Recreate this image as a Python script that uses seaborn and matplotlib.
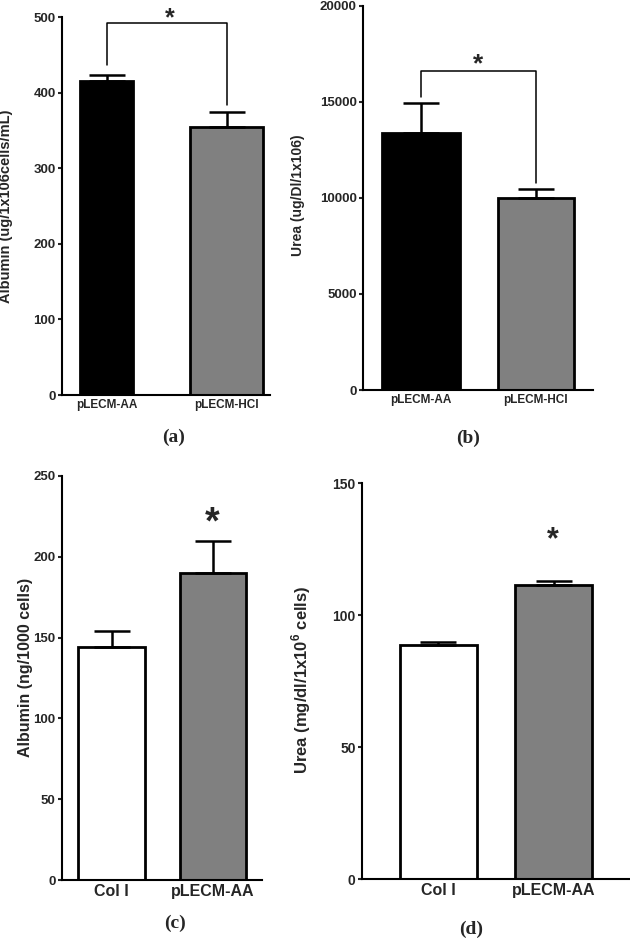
import matplotlib
matplotlib.use('Agg')
import matplotlib.pyplot as plt
import seaborn as sns
import numpy as np

# panel (a): albumin, decellularisation
a_cats = ['pLECM-AA', 'pLECM-HCl']
a_mean = [416, 355]
a_err = [7, 20]
# panel (b): urea, decellularisation
b_cats = ['pLECM-AA', 'pLECM-HCl']
b_mean = [13400, 10000]
b_err = [1550, 450]
# panel (c): albumin, substrate
c_cats = ['Col I', 'pLECM-AA']
c_mean = [144, 190]
c_err = [10, 20]
# panel (d): urea, substrate
d_cats = ['Col I', 'pLECM-AA']
d_mean = [88.7, 111.4]
d_err = [1.0, 1.7]

sns.set_theme(style='ticks')
plt.rcParams['font.family'] = ['Liberation Sans', 'DejaVu Sans']
plt.rcParams['font.weight'] = 'bold'
plt.rcParams['mathtext.fontset'] = 'custom'
plt.rcParams['mathtext.rm'] = 'Liberation Sans:bold'
plt.rcParams['mathtext.bf'] = 'Liberation Sans:bold'

fig = plt.figure(figsize=(6.3, 9.41), dpi=100)


def bar_panel(rect, cats, means, errs, colors, widths, xlim, ylim, yticks,
              ylabel, label_xy, tick_fs, xt_fs, yl_fs):
    ax = fig.add_axes(rect)
    sns.barplot(x=cats, y=means, hue=cats, palette=colors, legend=False,
                saturation=1, edgecolor='black', linewidth=2.0, ax=ax)
    for p, w, i in zip(ax.patches, widths, range(len(cats))):
        p.set_x(i - w / 2)
        p.set_width(w)
    ax.errorbar(x=range(len(cats)), y=means, yerr=[[0] * len(errs), errs],
                fmt='none', ecolor='black', elinewidth=1.8, capsize=13,
                capthick=1.8, zorder=1)
    ax.set_xlim(*xlim)
    ax.set_ylim(*ylim)
    ax.set_yticks(yticks)
    ax.set_yticklabels([str(t) for t in yticks], fontsize=tick_fs, fontweight='bold')
    ax.set_xticks(range(len(cats)))
    ax.set_xticklabels(cats, fontsize=xt_fs, fontweight='bold')
    ax.tick_params(axis='x', length=0, pad=3)
    ax.tick_params(axis='y', length=3, width=1.5, pad=1.5, direction='out')
    for s in ['left', 'bottom']:
        ax.spines[s].set_linewidth(1.5)
        ax.spines[s].set_color('black')
    sns.despine(ax=ax)
    ax.set_ylabel(ylabel, fontsize=yl_fs, fontweight='bold')
    ax.yaxis.set_label_coords(*label_xy)
    return ax


def star(ax, x, y, fs):
    # centre the asterisk glyph on (x, y)
    ax.annotate('*', xy=(x, y), xytext=(0, -0.58 * fs), textcoords='offset points',
                ha='center', va='baseline', fontsize=fs, fontweight='bold',
                annotation_clip=False)


ax_a = bar_panel([0.0984, 0.5802, 0.3302, 0.4017], a_cats, a_mean, a_err,
                 ['black', '#808080'], [0.44, 0.61], (-0.371, 1.3625), (0, 500),
                 [0, 100, 200, 300, 400, 500], 'Albumin (ug/1x106cells/mL)',
                 (-0.236, 0.5), 9.5, 8.5, 10.5)
ax_a.plot([0, 0, 1, 1], [436, 492, 492, 384], color='black', lw=1.1, clip_on=False)
star(ax_a, 0.525, 508, 18)

ax_b = bar_panel([0.576, 0.5855, 0.365, 0.4084], b_cats, b_mean, b_err,
                 ['black', '#808080'], [0.68, 0.66], (-0.504, 1.496), (0, 20000),
                 [0, 5000, 10000, 15000, 20000], 'Urea (ug/Dl/1x106)',
                 (-0.252, 0.507), 9.5, 8.5, 10)
ax_b.plot([0, 0, 1, 1], [15260, 16600, 16600, 10790], color='black', lw=1.1)
star(ax_b, 0.496, 17380, 19)

ax_c = bar_panel([0.0984, 0.0648, 0.3175, 0.4294], c_cats, c_mean, c_err,
                 ['white', '#808080'], [0.66, 0.65], (-0.488, 1.483), (0, 250),
                 [0, 50, 100, 150, 200, 250], 'Albumin (ng/1000 cells)',
                 (-0.145, 0.527), 9.5, 11.5, 11.5)
star(ax_c, 0.99, 228, 27)

ax_d = bar_panel([0.5746, 0.0656, 0.4254, 0.4208], d_cats, d_mean, d_err,
                 ['white', '#808080'], [0.67, 0.67], (-0.665, 1.665), (0, 150),
                 [0, 50, 100, 150], r'Urea (mg/dl/1x10$^{\mathbf{6}}$ cells)',
                 (-0.183, 0.503), 10, 11.5, 12)
star(ax_d, 0.996, 132, 22)

# panel letters
for txt, x, y in [('(a)', 174, 437), ('(b)', 468, 438), ('(c)', 175, 923), ('(d)', 471, 929)]:
    fig.text(x / 630, 1 - y / 941, txt, ha='center', va='center', fontsize=14,
             fontweight='bold', family='Liberation Serif')

fig.savefig('out.png', dpi=100)
